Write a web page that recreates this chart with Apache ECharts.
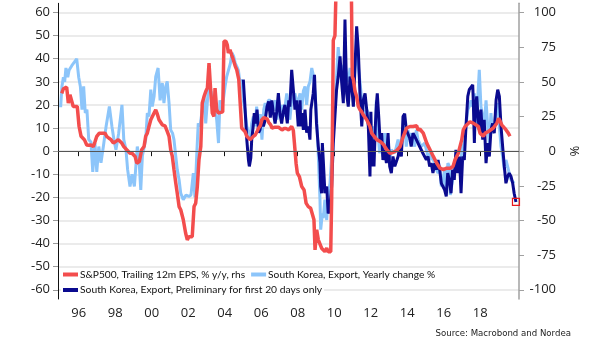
<!DOCTYPE html>
<html><head><meta charset="utf-8">
<script src="https://cdn.jsdelivr.net/npm/echarts/dist/echarts.min.js"></script>
<style>html,body{margin:0;padding:0;background:#fff}#c{width:605px;height:341px}</style>
</head><body><div id="c"></div>
<script>
// Tick labels
const xTickYears = [1996,1998,2000,2002,2004,2006,2008,2010,2012,2014,2016,2018];
const leftTicks = [-60,-50,-40,-30,-20,-10,0,10,20,30,40,50,60];
const rightTicks = [-100,-75,-50,-25,0,25,50,75,100];
const seriesNames = ['S&P500, Trailing 12m EPS, % y/y, rhs','South Korea, Export, Yearly change %','South Korea, Export, Preliminary for first 20 days only'];

// South Korea, Export, Yearly change % (lhs)
const koreaYoY = [[1995.01,19],[1995.08,28],[1995.16,32],[1995.23,30],[1995.30,36],[1995.40,32],[1995.47,35],[1995.62,37],[1995.76,38.5],[1995.89,40],
[1996.00,32],[1996.09,28],[1996.18,18],[1996.27,28],[1996.36,16.5],[1996.45,18],[1996.55,5],[1996.67,4],[1996.77,-9],[1996.89,3.5],[1996.99,-9],
[1997.10,2],[1997.22,-5],[1997.35,2],[1997.50,10.7],[1997.68,19.3],[1997.82,10.7],[1997.93,5],
[1998.04,0.6],[1998.19,7.8],[1998.37,20],[1998.47,5],[1998.59,0.6],[1998.68,-8],[1998.81,-15.3],[1998.92,-10],
[1999.05,-15.3],[1999.12,-15],[1999.21,2],[1999.30,-3],[1999.40,-16.8],[1999.49,-2],[1999.67,5],[1999.76,16.5],[1999.85,15],[1999.95,26.6],
[2000.03,19.3],[2000.13,23.7],[2000.22,32.3],[2000.35,36],[2000.46,22],[2000.58,29.5],[2000.67,20.8],[2000.77,28],[2000.85,30.2],[2000.95,20.8],
[2001.04,9.2],[2001.14,7.8],[2001.22,5],[2001.32,-2.3],[2001.40,-8],[2001.50,-12.4],[2001.59,-18.2],[2001.73,-21],[2001.88,-19],
[2002.04,-19.6],[2002.15,-19],[2002.28,-9.5],[2002.37,-20],[2002.47,-1],[2002.55,12],[2002.65,10.7],[2002.77,18],[2002.87,23.7],[2002.96,12],
[2003.10,26.6],[2003.25,26],[2003.38,18],[2003.47,20],[2003.56,13.6],[2003.66,3.5],[2003.74,22],[2003.84,18],[2003.92,22],
[2004.02,28],[2004.11,32.3],[2004.20,33],[2004.31,38],[2004.40,42.5],[2004.49,41],[2004.58,38],[2004.66,36.7],[2004.75,35],[2004.84,29.5],[2004.95,31],
[2005.02,22],[2005.11,18],[2005.21,10.7],[2005.32,7.8],[2005.39,5],[2005.48,12],[2005.57,15],[2005.66,10.7],[2005.75,19.3],[2005.86,7.8],[2005.95,16],
[2006.04,5],[2006.14,18],[2006.22,20.8],[2006.32,18],[2006.39,22],[2006.50,22],[2006.59,16],[2006.69,20],[2006.77,22],[2006.87,13.6],[2006.96,22],
[2007.05,17],[2007.14,20],[2007.23,15],[2007.30,19],[2007.40,25],[2007.48,19.3],[2007.57,13.6],[2007.67,22],[2007.76,24],[2007.85,25],[2007.94,20.8],
[2008.03,22],[2008.13,25],[2008.22,18],[2008.31,26],[2008.40,28],[2008.49,20],[2008.58,28],[2008.67,30],[2008.77,36],[2008.85,33],[2008.95,25],
[2009.04,13.6],[2009.13,-2.3],[2009.22,-21],[2009.26,-34],[2009.35,-27],[2009.40,-29],[2009.49,-21],[2009.59,-29.8],[2009.67,-18],[2009.77,-13.9],[2009.86,-2.3],[2009.95,10.7],
[2010.04,22],[2010.13,32.3],[2010.22,45],[2010.32,36],[2010.41,33],[2010.50,36.7],[2010.59,38],[2010.68,33],[2010.77,30],[2010.87,36],[2010.96,33],
[2011.05,25],[2011.14,36.7],[2011.23,43.9],[2011.32,36.7],[2011.41,30.2],[2011.51,22],[2011.59,18],[2011.69,15],[2011.78,18],[2011.87,16.5],[2011.96,12],
[2012.05,-2.3],[2012.14,10.7],[2012.24,5],[2012.31,22],[2012.40,7.8],[2012.49,-0.9],[2012.58,3.5],[2012.67,-2.3],[2012.77,7.8],[2012.86,-3.8],[2012.95,5],
[2013.04,-3.8],[2013.13,0.6],[2013.32,-0.9],[2013.50,5],[2013.66,-0.9],[2013.77,7.8],[2013.86,10.7],[2013.95,2],
[2014.04,9.2],[2014.14,5],[2014.22,7.8],[2014.41,2],[2014.50,9.2],[2014.59,5],[2014.77,2],[2014.96,3.5],
[2015.05,0.6],[2015.14,-2.3],[2015.23,-0.9],[2015.32,-3.8],[2015.41,-2.3],[2015.51,-6.6],[2015.69,-9.5],[2015.78,-6.6],[2015.87,-15.3],[2015.96,-12.4],
[2016.05,-8],[2016.12,-18.2],[2016.23,-5.2],[2016.31,-6.6],[2016.36,-19],[2016.49,-12.4],[2016.67,-5.2],[2016.86,-8],
[2017.04,2],[2017.13,3.5],[2017.22,10.7],[2017.32,18],[2017.40,19.3],[2017.50,22],[2017.59,19.3],[2017.68,25],[2017.77,10.7],[2017.86,22],[2017.95,35.2],
[2018.04,19.3],[2018.14,15],[2018.22,10.7],[2018.32,22],[2018.41,10.7],[2018.50,3.5],[2018.59,16.5],[2018.68,7.8],[2018.77,10.7],[2018.87,18],[2018.96,20.8],
[2019.05,10.7],[2019.14,2],[2019.23,-2.3],[2019.32,-8],[2019.41,-3.8],[2019.50,-6.6],[2019.59,-9.5],[2019.69,-12.4],[2019.78,-12.4],[2019.86,-13.9]];

// South Korea, Export, Preliminary for first 20 days only (lhs)
const koreaPrelim = [[2005.02,31],[2005.09,22],[2005.21,5],[2005.30,-3.8],[2005.35,-6.6],[2005.43,-3],[2005.48,5],[2005.55,10],[2005.62,16.5],[2005.70,12],[2005.77,18],[2005.86,8],[2005.93,9.2],
[2006.03,13.6],[2006.12,10.7],[2006.22,13.6],[2006.32,19.3],[2006.41,21.5],[2006.50,14.5],[2006.58,22],[2006.66,17],[2006.76,12],[2006.85,17],[2006.94,25.1],
[2007.03,16],[2007.12,12],[2007.21,17],[2007.30,20],[2007.43,12],[2007.51,22],[2007.57,19.3],[2007.67,35.2],[2007.76,26.6],[2007.85,18],[2007.93,22],
[2008.03,10.7],[2008.13,22],[2008.17,10.7],[2008.24,16.5],[2008.31,9.2],[2008.40,18],[2008.49,8],[2008.58,10.7],[2008.67,5],[2008.72,18],[2008.85,25],[2008.92,33],[2008.95,26.6],
[2009.03,12],[2009.13,2],[2009.22,-5],[2009.26,-15.3],[2009.31,-18.2],[2009.35,3.5],[2009.40,-3.8],[2009.49,-18.2],[2009.59,-15.3],[2009.67,-27],[2009.77,-24],[2009.86,-15.3],[2009.95,3.5],
[2010.04,15],[2010.13,26.6],[2010.22,32.3],[2010.32,41],[2010.41,29.5],[2010.50,20.8],[2010.59,57],[2010.68,25],[2010.77,19.3],[2010.87,32.3],[2010.96,28],
[2011.05,19.3],[2011.14,36.7],[2011.23,54],[2011.32,43.9],[2011.41,25],[2011.51,10.7],[2011.59,22],[2011.69,25],[2011.78,18],[2011.87,10.7],[2011.96,-11],
[2012.01,17],[2012.07,-6.6],[2012.12,5],[2012.18,-6.6],[2012.25,10],[2012.31,20],[2012.36,25],[2012.44,15],[2012.51,5],[2012.60,7.8],[2012.67,-3.8],[2012.77,0.6],[2012.86,-5.2],[2012.95,7.8],
[2013.04,-6.6],[2013.13,-9.5],[2013.22,-2.3],[2013.32,-6.6],[2013.50,-2.3],[2013.59,2],[2013.68,-2.3],[2013.77,15],[2013.86,16.2],[2013.95,9.2],
[2014.04,10],[2014.14,5.6],[2014.22,2],[2014.32,7.8],[2014.50,5],[2014.68,2],[2014.86,-0.9],
[2015.05,-3.8],[2015.14,-2.3],[2015.23,-6.6],[2015.32,-5.2],[2015.41,-9.5],[2015.51,-5.2],[2015.60,-8],[2015.69,-3.8],[2015.78,-8],[2015.87,-13.9],[2015.96,-15.3],
[2016.05,-16.8],[2016.14,-19.6],[2016.22,-9.5],[2016.31,-12.4],[2016.40,-18.2],[2016.49,-8],[2016.58,-12.4],[2016.67,0.6],[2016.77,-9.5],[2016.86,-2.3],[2016.95,-18.2],
[2017.04,-2.3],[2017.13,-3.8],[2017.22,10.7],[2017.32,23.7],[2017.40,26.6],[2017.50,27.3],[2017.59,28.7],[2017.62,22],[2017.68,3.5],[2017.73,18],[2017.81,23.7],[2017.88,15],[2017.95,9.2],
[2018.04,18],[2018.14,5],[2018.22,13.6],[2018.32,-5.2],[2018.41,3.5],[2018.50,-2.3],[2018.59,9.2],[2018.68,12],[2018.77,7.8],[2018.87,22],[2018.96,26.6],
[2019.05,23.7],[2019.14,10.7],[2019.23,2],[2019.32,-6.6],[2019.41,-13.9],[2019.50,-11],[2019.59,-9.5],[2019.69,-11],[2019.78,-13.9],[2019.86,-18.2],[2019.96,-22]];

// S&P500, Trailing 12m EPS, % y/y (rhs)
const spxEps = [[1995.07,41.7],[1995.16,45],[1995.25,46.2],[1995.34,46.2],[1995.43,34.7],[1995.52,40.7],[1995.62,39.5],[1995.70,32.2],[1995.80,31],[1995.92,32.2],
[1996.02,17.8],[1996.13,10.7],[1996.22,10],[1996.31,8.3],[1996.44,4.5],[1996.55,4.2],[1996.67,4.5],[1996.80,3.3],[1996.89,6.7],[1996.99,10.7],
[1997.13,13],[1997.26,13],[1997.35,14.2],[1997.44,13],[1997.53,10.7],[1997.66,9.3],[1997.77,8.3],[1997.90,5.8],[1997.99,6.7],
[1998.17,8.3],[1998.36,5.8],[1998.47,3.3],[1998.63,1],[1998.81,-1.5],[1998.92,-1.5],
[1999.01,-2.5],[1999.09,-3.8],[1999.18,-8.7],[1999.32,-7.5],[1999.45,1],[1999.58,3.3],[1999.67,10.7],[1999.76,13],[1999.85,17.8],[1999.95,22.7],
[2000.03,23.3],[2000.13,27.5],[2000.22,29.8],[2000.31,26.7],[2000.40,22.7],[2000.49,22.7],[2000.58,19],[2000.73,18.3],[2000.85,14.2],[2000.95,10.7],
[2001.04,1],[2001.13,-3.8],[2001.22,-13.3],[2001.32,-23.2],[2001.40,-30.3],[2001.50,-40],[2001.59,-42.3],[2001.73,-49.5],[2001.86,-59.2],[2001.95,-64],
[2002.04,-61.7],[2002.14,-62.3],[2002.22,-61.7],[2002.32,-40],[2002.41,-37.5],[2002.50,-25.5],[2002.59,-6.3],[2002.69,3.3],[2002.77,34.7],[2002.87,39.5],[2002.96,43],
[2003.05,45.5],[2003.14,63.5],[2003.23,44.3],[2003.32,27.5],[2003.41,25],[2003.47,45.5],[2003.56,30],[2003.65,27.5],[2003.74,27.5],[2003.89,28.3],[2003.96,79.2],
[2004.07,79.2],[2004.14,76.7],[2004.20,70.8],[2004.29,73.2],[2004.38,69.5],[2004.47,66],[2004.58,61.2],[2004.66,58.7],[2004.77,51.7],[2004.84,51.7],[2004.93,16.7],
[2005.02,16.7],[2005.11,14.2],[2005.21,10.7],[2005.30,9.3],[2005.40,8.3],[2005.48,9.3],[2005.57,10.7],[2005.68,11.8],[2005.77,14.2],[2005.86,16.7],[2005.95,18.3],
[2006.04,22.7],[2006.14,24.2],[2006.22,25],[2006.32,23.3],[2006.41,20.8],[2006.52,19],[2006.59,16.7],[2006.76,17.3],[2006.94,17.3],
[2007.03,16.7],[2007.14,15.3],[2007.25,16.3],[2007.36,16.3],[2007.51,15.3],[2007.57,14.2],[2007.67,17.8],[2007.76,15],[2007.82,5.8],[2007.91,-8.7],[2007.98,-15.8],
[2008.09,-18.3],[2008.22,-25.5],[2008.35,-28],[2008.46,-37.5],[2008.58,-40],[2008.71,-41.2],[2008.80,-40],[2008.89,-49.5],[2008.95,-71.2],
[2009.04,-56.7],[2009.13,-64],[2009.22,-64],[2009.31,-70],[2009.40,-68.8],[2009.49,-72.5],[2009.59,-70],[2009.67,-72.5],[2009.81,-72.5],[2009.86,-35],[2009.92,36.7],[2009.95,80],
[2010.04,83.3],[2010.13,133],[2010.32,160],[2010.59,180],[2010.87,150],[2010.94,116.7],[2010.99,53.8],
[2011.05,51.7],[2011.14,43.3],[2011.23,39.5],[2011.32,32.2],[2011.41,30],[2011.51,28.3],[2011.59,26.2],[2011.78,22.7],[2011.85,22.7],[2011.96,17.8],
[2012.05,13],[2012.14,11.7],[2012.33,8.3],[2012.51,7],[2012.69,5],[2012.88,1],
[2013.06,-1.5],[2013.24,-0.8],[2013.43,0.5],[2013.61,3.3],[2013.79,10.7],[2013.97,16.7],
[2014.15,17.8],[2014.32,17.8],[2014.52,18.3],[2014.59,15.3],[2014.70,15.8],[2014.88,13],
[2015.07,5.8],[2015.25,1],[2015.43,-3.8],[2015.62,-8.7],[2015.80,-12.3],[2015.98,-13.3],
[2016.16,-12.3],[2016.35,-12.3],[2016.51,-11],[2016.62,-6.3],[2016.80,-1.5],[2016.89,3.3],[2016.99,8.3],
[2017.07,15.3],[2017.17,17.8],[2017.26,19],[2017.44,21.2],[2017.62,20.2],[2017.72,21.2],[2017.90,17.8],[2017.99,13],
[2018.08,14.2],[2018.17,10.7],[2018.27,13],[2018.45,14.2],[2018.54,15.3],[2018.72,16.7],[2018.91,20.2],
[2019.01,23.7],[2019.09,21.7],[2019.18,19],[2019.27,17.8],[2019.36,16.3],[2019.45,15.3],[2019.54,13],[2019.63,10.7]];

const chart = echarts.init(document.getElementById('c'), null, {renderer: 'canvas'});
const FONT = "'Open Sans', 'Noto Sans', sans-serif";
const LFONT = "Lato, 'Open Sans', sans-serif";
const lastPrelim = koreaPrelim[koreaPrelim.length - 1];

chart.setOption({
  animation: false,
  backgroundColor: '#ffffff',
  grid: {left: 58, right: 86, top: 3.3, bottom: 42, containLabel: false},
  legend: [
    {data: [seriesNames[0], seriesNames[1]], left: 61, top: 268.5, orient: 'horizontal', itemWidth: 15, itemHeight: 4, itemGap: 6,
     icon: 'rect', backgroundColor: '#fff', padding: [1, 2], textStyle: {fontFamily: LFONT, fontSize: 10.2, color: '#111', padding: [0,0,0,-3]}},
    {data: [seriesNames[2]], left: 61, top: 284, itemWidth: 15, itemHeight: 4, icon: 'rect', backgroundColor: '#fff', padding: [1, 2],
     textStyle: {fontFamily: LFONT, fontSize: 10.3, color: '#111', padding: [0,0,0,-3]}}
  ],
  xAxis: {
    type: 'value', min: 1994.865, max: 2020.126,
    axisLine: {show: true, lineStyle: {color: '#111', width: 1}},
    axisTick: {show: true, length: 5, lineStyle: {color: '#111'}, customValues: xTickYears},
    axisLabel: {customValues: xTickYears, margin: 8, fontFamily: FONT, fontSize: 13, color: '#222',
      formatter: v => String(Math.round(v)).slice(2)},
    splitLine: {show: false}
  },
  yAxis: [
    {type: 'value', min: -64, max: 64, position: 'left',
     axisLine: {show: true, onZero: false, lineStyle: {color: '#111', width: 1}},
     axisTick: {show: true, length: 5, lineStyle: {color: '#999'}, customValues: leftTicks},
     axisLabel: {customValues: leftTicks, margin: 8, fontFamily: FONT, fontSize: 13, color: '#222'},
     splitLine: {show: true, lineStyle: {color: '#e4e4e4', width: 1.5}}},
    {type: 'value', min: -320/3, max: 320/3, position: 'right',
     name: '%', nameLocation: 'middle', nameGap: 40, nameRotate: -90,
     nameTextStyle: {fontFamily: FONT, fontSize: 13, color: '#222'},
     axisLine: {show: true, onZero: false, lineStyle: {color: '#a0a0a0', width: 1.5}},
     axisTick: {show: true, length: 5, lineStyle: {color: '#a0a0a0'}, customValues: rightTicks},
     axisLabel: {customValues: rightTicks, margin: 37, align: 'right', fontFamily: FONT, fontSize: 13, color: '#222'},
     splitLine: {show: false}}
  ],
  series: [
    {name: seriesNames[1], type: 'line', yAxisIndex: 0, data: koreaYoY, showSymbol: false, symbol: 'none',
     color: '#8cc5fa', lineStyle: {color: '#8cc5fa', width: 3}, z: 2},
    {name: seriesNames[2], type: 'line', yAxisIndex: 0, data: koreaPrelim, showSymbol: false, symbol: 'none',
     color: '#0a0a8f', lineStyle: {color: '#0a0a8f', width: 3}, z: 3,
     markPoint: {symbol: 'rect', symbolSize: 7, silent: true, label: {show: false},
       itemStyle: {color: 'rgba(0,0,0,0)', borderColor: '#e8191e', borderWidth: 1.2},
       data: [{coord: lastPrelim}]}},
    {name: seriesNames[0], type: 'line', yAxisIndex: 1, data: spxEps, showSymbol: false, symbol: 'none',
     color: '#f34d4d', lineStyle: {color: '#f34d4d', width: 3.5}, z: 4,
     markLine: {silent: true, symbol: 'none', z: 10, label: {show: false}, lineStyle: {color: '#555', width: 1, type: 'solid'}, data: [{yAxis: 0}]}}
  ],
  graphic: [
    {type: 'text', right: 34, top: 329.5, style: {text: 'Source: Macrobond and Nordea', font: "8.6px 'DejaVu Sans'", fill: '#222'}}
  ]
});
</script></body></html>
